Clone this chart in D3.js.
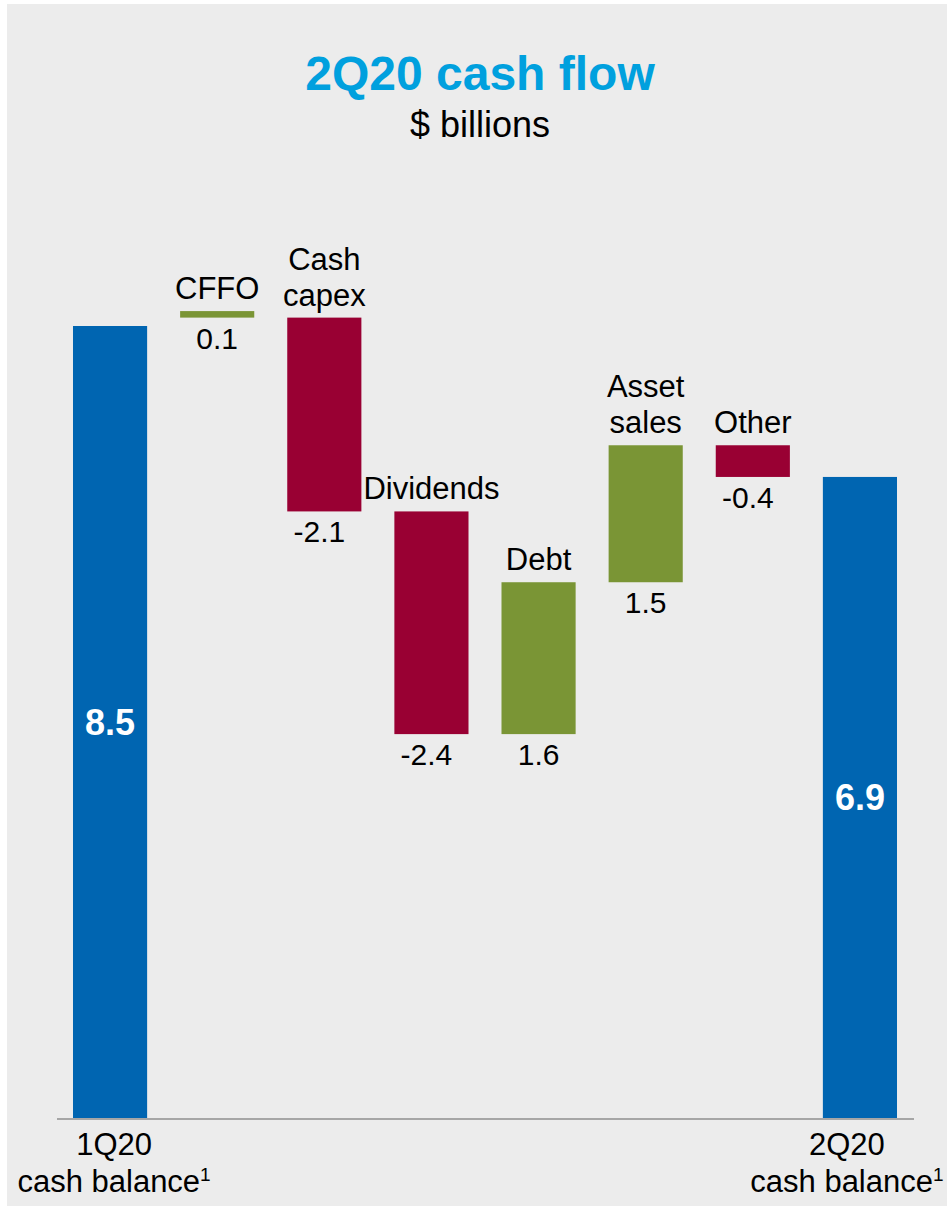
<!DOCTYPE html>
<html>
<head>
<meta charset="utf-8">
<script src="https://cdn.jsdelivr.net/npm/d3@7"></script>
<style>
  html, body { margin: 0; padding: 0; background: #ffffff; }
  svg { display: block; }
  text { font-family: "Liberation Sans", Arial, Helvetica, sans-serif; }
</style>
</head>
<body>
<svg id="chart" width="947" height="1207"></svg>
<script>
// ---- data ----
const categories = ["1Q20 cash balance", "CFFO", "Cash capex", "Dividends", "Debt", "Asset sales", "Other", "2Q20 cash balance"];
const barKinds   = ["total", "increase", "decrease", "decrease", "increase", "increase", "decrease", "total"];
const barFrom    = [0, 8.59, 6.51, 4.12, 4.12, 5.75, 6.88, 0];
const barTo      = [8.5, 8.66, 8.59, 6.51, 5.75, 7.22, 7.22, 6.88];
const valueLabels = ["8.5", "0.1", "-2.1", "-2.4", "1.6", "1.5", "-0.4", "6.9"];
const categoryLines = [["1Q20", "cash balance"], ["CFFO"], ["Cash", "capex"], ["Dividends"], ["Debt"], ["Asset", "sales"], ["Other"], ["2Q20", "cash balance"]];
const titleText = "2Q20 cash flow";
const subtitleText = "$ billions";

// ---- styles ----
const colors = { total: "#0065B1", increase: "#7A9535", decrease: "#990033" };

const svg = d3.select("#chart");

// background panel
svg.append("rect").attr("x", 7).attr("y", 4).attr("width", 940).attr("height", 1202).attr("fill", "#ECECEC");

// title
svg.append("text").attr("x", 480).attr("y", 90).attr("text-anchor", "middle")
  .attr("font-size", 48).attr("font-weight", "bold").attr("fill", "#00A0DE").text(titleText);
svg.append("text").attr("x", 480).attr("y", 137).attr("text-anchor", "middle")
  .attr("font-size", 36).attr("fill", "#000").text(subtitleText);

const idx = d3.range(categories.length);
const x = d3.scaleBand().domain(categories).range([56.5, 913.5]).paddingInner(0.308).paddingOuter(0.154);
const y = d3.scaleLinear().domain([0, 8.5]).range([1118, 326]);

// bars
svg.append("g").selectAll("rect").data(idx).join("rect")
  .attr("x", i => x(categories[i]))
  .attr("width", x.bandwidth())
  .attr("y", i => y(Math.max(barFrom[i], barTo[i])))
  .attr("height", i => Math.abs(y(barFrom[i]) - y(barTo[i])))
  .attr("fill", i => colors[barKinds[i]]);

// baseline axis
const axis = d3.axisBottom(x).tickSize(0).tickFormat("");
const axisG = svg.append("g").attr("transform", `translate(0, ${y(0) + 0.5})`).call(axis);
axisG.select(".domain").attr("stroke", "#A6A6A6").attr("stroke-width", 2);

// value labels
idx.forEach(i => {
  const cx = x(categories[i]) + x.bandwidth() / 2;
  if (barKinds[i] === "total") {
    const mid = (y(barFrom[i]) + y(barTo[i])) / 2;
    svg.append("text").attr("x", cx).attr("y", mid + 13).attr("text-anchor", "middle")
      .attr("font-size", 36).attr("font-weight", "bold").attr("fill", "#fff").text(valueLabels[i]);
  } else {
    const lo = y(Math.min(barFrom[i], barTo[i]));
    const hi = y(Math.max(barFrom[i], barTo[i]));
    const neg = valueLabels[i].startsWith("-");
    svg.append("text").attr("x", cx - (neg ? 5 : 0)).attr("y", lo + 31).attr("text-anchor", "middle")
      .attr("font-size", 30).attr("fill", "#000").text(valueLabels[i]);
    const lines = categoryLines[i];
    lines.forEach((ln, k) => {
      svg.append("text").attr("x", cx)
        .attr("y", hi - 12 - (lines.length - 1 - k) * 36)
        .attr("text-anchor", "middle").attr("font-size", 31).attr("fill", "#000").text(ln);
    });
  }
});

// axis category labels for totals
const totalOffsets = { 0: 4, 7: -13 };
idx.filter(i => barKinds[i] === "total").forEach(i => {
  const cx = x(categories[i]) + x.bandwidth() / 2 + totalOffsets[i];
  const lines = categoryLines[i];
  svg.append("text").attr("x", cx).attr("y", 1155).attr("text-anchor", "middle")
    .attr("font-size", 31).attr("fill", "#000").text(lines[0]);
  const t = svg.append("text").attr("x", cx).attr("y", 1192).attr("text-anchor", "middle")
    .attr("font-size", 31).attr("fill", "#000");
  t.append("tspan").text(lines[1]);
  t.append("tspan").attr("font-size", 19).attr("dy", -11).text("1");
});
</script>
</body>
</html>
